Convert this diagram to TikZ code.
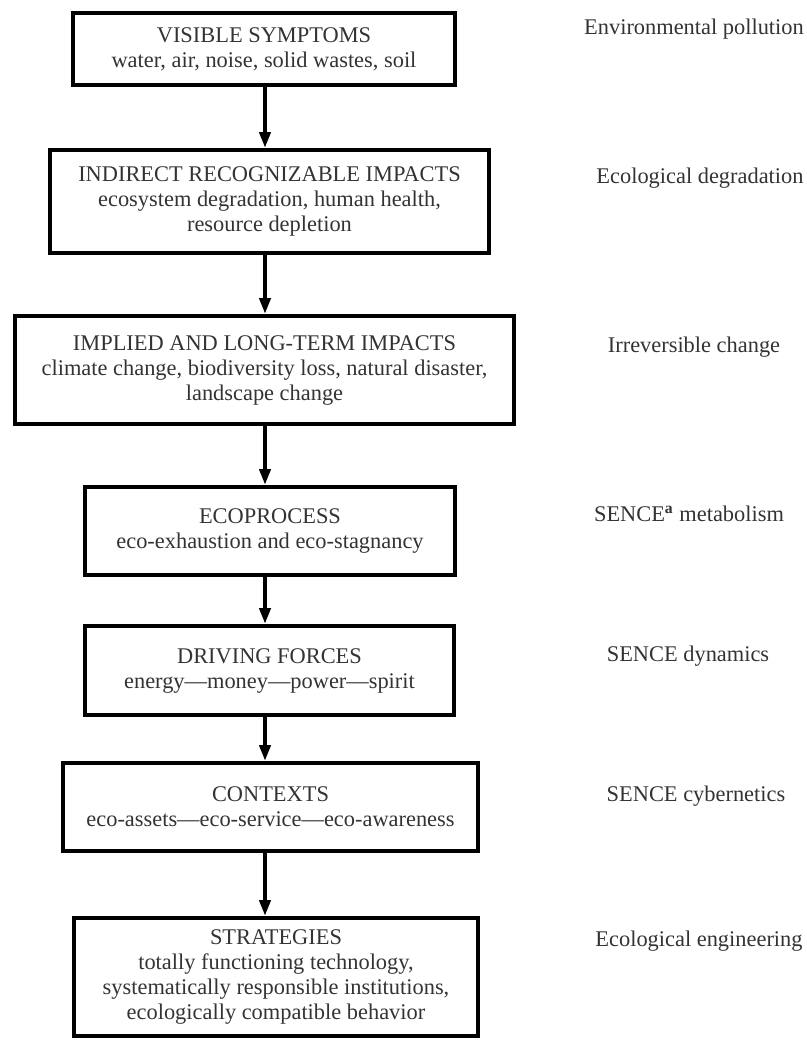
\documentclass[tikz,border=0pt]{standalone}
\usepackage{fontspec}
\setmainfont{Liberation Serif}
\usetikzlibrary{arrows.meta}
\begin{document}
\begin{tikzpicture}[
    x=0.5pt, y=-0.5pt,
    level/.style={rectangle, draw, line width=2pt, align=center, text=black!80, inner sep=0pt, font=\fontsize{11.2}{12.5}\selectfont},
    side/.style={text=black!80, font=\fontsize{11.2}{12.5}\selectfont},
    flow/.style={line width=2pt, -{Triangle[length=8pt,width=5.5pt]}}
]
\useasboundingbox (0,0) rectangle (807,1040);
\coordinate (axis) at (265,0);

% Levels
\node[level, minimum width=191pt, minimum height=36pt] (symptoms) at (264,49) {VISIBLE SYMPTOMS\\water, air, noise, solid wastes, soil};
\node[level, minimum width=219.5pt, minimum height=51.5pt] (impacts) at (269.5,201.5) {INDIRECT RECOGNIZABLE IMPACTS\\ecosystem degradation, human health,\\resource depletion};
\node[level, minimum width=249.5pt, minimum height=54pt] (longterm) at (264.5,370) {IMPLIED AND LONG-TERM IMPACTS\\climate change, biodiversity loss, natural disaster,\\landscape change};
\node[level, minimum width=185pt, minimum height=44pt] (ecoproc) at (270,531) {ECOPROCESS\\eco-exhaustion and eco-stagnancy};
\node[level, minimum width=184.5pt, minimum height=44.5pt] (forces) at (269.5,670.5) {DRIVING FORCES\\energy---money---power---spirit};
\node[level, minimum width=207.5pt, minimum height=44pt] (contexts) at (270.5,807) {CONTEXTS\\eco-assets---eco-service---eco-awareness};
\node[level, minimum width=202pt, minimum height=59pt] (strategies) at (276,977) {STRATEGIES\\totally functioning technology,\\systematically responsible institutions,\\ecologically compatible behavior};

% Arrows
\draw[flow] (axis |- symptoms.south) -- (axis |- impacts.north);
\draw[flow] (axis |- impacts.south) -- (axis |- longterm.north);
\draw[flow] (axis |- longterm.south) -- (axis |- ecoproc.north);
\draw[flow] (axis |- ecoproc.south) -- (axis |- forces.north);
\draw[flow] (axis |- forces.south) -- (axis |- contexts.north);
\draw[flow] (axis |- contexts.south) -- (axis |- strategies.north);

% Side labels
\node[side] (pollution) at (694,29) {Environmental pollution};
\node[side] (degradation) at (700,178) {Ecological degradation};
\node[side] (irreversible) at (694,347) {Irreversible change};
\node[side] (metabolism) at (689,514) {SENCE\textsuperscript{\textbf{a}} metabolism};
\node[side] (dynamics) at (688,656) {SENCE dynamics};
\node[side] (cybernetics) at (696,796) {SENCE cybernetics};
\node[side] (engineering) at (699,941) {Ecological engineering};
\end{tikzpicture}
\end{document}
